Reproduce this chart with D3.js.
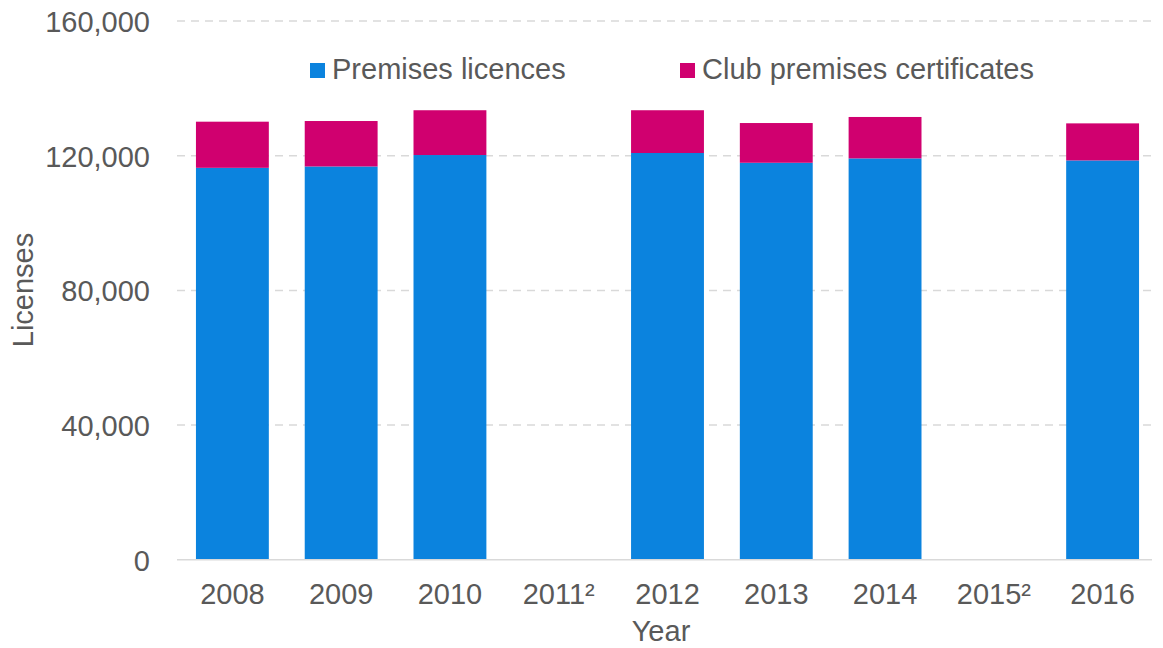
<!DOCTYPE html>
<html>
<head>
<meta charset="utf-8">
<script src="https://cdn.jsdelivr.net/npm/d3@7"></script>
<style>
    body { margin: 0; background: #fff; }
    svg text { font-family: "Liberation Sans", Arial, sans-serif; fill: #595959; font-size: 29px; }
</style>
</head>
<body>
<div id="chart"></div>
<script>
// chart data
const years = ['2008', '2009', '2010', '2011²', '2012', '2013', '2014', '2015²', '2016'];
const premisesLicences = [116400, 116800, 120200, null, 120800, 117900, 119200, null, 118600];
const clubCertificates = [13700, 13500, 13300, null, 12700, 11800, 12300, null, 11000];
const yTicks = [0, 40000, 80000, 120000, 160000];
const seriesNames = ['Premises licences', 'Club premises certificates'];
const seriesColors = ['#0b83de', '#d0006f'];

const width = 1163;
const height = 648;
const margin = { top: 21, right: 6, bottom: 89, left: 178 };

const svg = d3.select('#chart')
    .append('svg')
    .attr('width', width)
    .attr('height', height);

const x = d3.scaleBand()
    .domain(years)
    .range([margin.left, width - margin.right])
    .paddingInner(0.33)
    .paddingOuter(0.165);

const y = d3.scaleLinear()
    .domain([0, 160000])
    .range([height - margin.bottom + 0.8, margin.top]);

// gridlines
svg.append('g')
    .selectAll('line')
    .data(yTicks.filter(d => d > 0))
    .enter().append('line')
    .attr('x1', 177)
    .attr('x2', 1152)
    .attr('y1', d => y(d))
    .attr('y2', d => y(d))
    .style('stroke', '#d9d9d9')
    .style('stroke-width', 1.5)
    .style('stroke-dasharray', '8,6');

// stacked bars
const rows = years.map((year, i) => ({
    year,
    premises: premisesLicences[i],
    club: clubCertificates[i]
})).filter(d => d.premises !== null);

const bars = svg.append('g');

bars.selectAll('.premises')
    .data(rows)
    .enter().append('rect')
    .attr('class', 'premises')
    .attr('x', d => x(d.year))
    .attr('width', x.bandwidth())
    .attr('y', d => y(d.premises))
    .attr('height', d => y(0) - y(d.premises))
    .style('fill', seriesColors[0]);

bars.selectAll('.club')
    .data(rows)
    .enter().append('rect')
    .attr('class', 'club')
    .attr('x', d => x(d.year))
    .attr('width', x.bandwidth())
    .attr('y', d => y(d.premises + d.club))
    .attr('height', d => y(d.premises) - y(d.premises + d.club))
    .style('fill', seriesColors[1]);

// x axis
const xAxis = svg.append('g')
    .attr('transform', `translate(0,${y(0)})`)
    .call(d3.axisBottom(x).tickSize(0).tickPadding(0));
xAxis.select('.domain').attr('d', 'M177,0H1152').style('stroke', '#d9d9d9').style('stroke-width', 1.5);
xAxis.selectAll('text').attr('dy', null).attr('y', 44);

// y axis
const yAxis = svg.append('g')
    .attr('transform', `translate(${margin.left},0)`)
    .call(d3.axisLeft(y).tickValues(yTicks).tickFormat(d3.format(',')).tickSize(0).tickPadding(28));
yAxis.select('.domain').remove();
yAxis.selectAll('text').attr('dy', '0.36em');

// axis titles
svg.append('text')
    .attr('x', 661)
    .attr('y', 641)
    .attr('text-anchor', 'middle')
    .text('Year');

svg.append('text')
    .attr('transform', 'translate(33,290) rotate(-90)')
    .attr('text-anchor', 'middle')
    .text('Licenses');

// legend
const legendX = [310, 680];
const legend = svg.append('g')
    .selectAll('g')
    .data(seriesNames)
    .enter().append('g')
    .attr('transform', (d, i) => `translate(${legendX[i]},63)`);

legend.append('rect')
    .attr('width', 15)
    .attr('height', 15)
    .style('fill', (d, i) => seriesColors[i]);

legend.append('text')
    .attr('x', 22)
    .attr('y', 16)
    .text(d => d);
</script>
</body>
</html>
